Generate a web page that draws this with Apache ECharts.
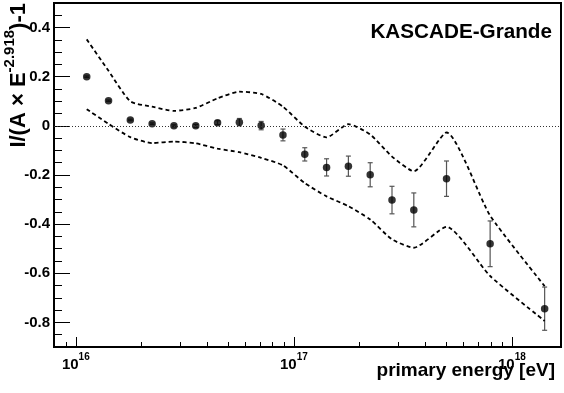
<!DOCTYPE html>
<html>
<head>
<meta charset="utf-8">
<script src="https://cdn.jsdelivr.net/npm/echarts@6/dist/echarts.min.js"></script>
<style>
  html, body { margin: 0; padding: 0; background: #fff; }
  #chart { width: 564px; height: 393px; }
</style>
</head>
<body>
<div id="chart"></div>
<script>
// log10(E / eV) of each energy bin
const lgE = [16.05, 16.15, 16.25, 16.35, 16.45, 16.55, 16.65, 16.75, 16.85, 16.95,
             17.05, 17.15, 17.25, 17.35, 17.45, 17.55, 17.7, 17.9, 18.15]
// residual I/(A x E^-2.918) - 1
const residual = [0.20, 0.102, 0.024, 0.009, 0.0, 0.0, 0.013, 0.015, 0.001, -0.037,
                  -0.116, -0.169, -0.164, -0.199, -0.302, -0.342, -0.215, -0.48, -0.744]
const residualErr = [0.003, 0.003, 0.003, 0.003, 0.004, 0.006, 0.008, 0.015, 0.017, 0.024,
                     0.027, 0.035, 0.041, 0.049, 0.056, 0.069, 0.072, 0.093, 0.088]
// systematic band (dashed)
const bandUpper = [0.352, 0.224, 0.10, 0.078, 0.061, 0.073, 0.112, 0.139, 0.13, 0.078,
                   -0.003, -0.047, 0.007, -0.035, -0.125, -0.185, -0.027, -0.365, -0.652]
const bandLower = [0.068, 0.008, -0.046, -0.07, -0.064, -0.071, -0.093, -0.107, -0.13, -0.161,
                   -0.233, -0.287, -0.327, -0.381, -0.462, -0.496, -0.411, -0.611, -0.794]

// axis ticks
const xDecades = [16, 17, 18]
const xMinorMult = [2, 3, 4, 5, 6, 7, 8, 9]
const yLabels = [-0.8, -0.6, -0.4, -0.2, 0, 0.2, 0.4]
const yMinorStep = 0.05

const xMin = 15.9
const xMax = 18.225
const yMin = -0.9
const yMax = 0.5

const xMinorTicks = []
;[15, 16, 17, 18].forEach(d => {
    xMinorMult.forEach(m => {
        const v = d + Math.log10(m)
        if (v > xMin && v < xMax) xMinorTicks.push(v)
    })
})
const yMinorTicks = []
for (let k = Math.ceil(yMin / yMinorStep); k * yMinorStep <= yMax + 1e-9; k++) {
    yMinorTicks.push(Math.round(k * yMinorStep * 100) / 100)
}

const pts = lgE.map((x, i) => [x, residual[i]])
const errData = lgE.map((x, i) => [x, residual[i], residualErr[i]])
const upper = lgE.map((x, i) => [x, bandUpper[i]])
const lower = lgE.map((x, i) => [x, bandLower[i]])

const font = 'Liberation Sans'
const chart = echarts.init(document.getElementById('chart'))

chart.setOption({
    animation: false,
    backgroundColor: '#fff',
    textStyle: { fontFamily: font },
    title: {
        text: 'KASCADE-Grande',
        right: 12,
        top: 22,
        padding: 0,
        textStyle: { fontFamily: font, fontSize: 20.7, fontWeight: 'bold', color: '#000' }
    },
    grid: {
        left: 54,
        right: 3,
        top: 3,
        bottom: 46,
        show: true,
        borderColor: '#000',
        borderWidth: 2
    },
    xAxis: [
        {
            type: 'value',
            position: 'bottom',
            min: xMin,
            max: xMax,
            splitLine: { show: false },
            axisLine: { show: true, onZero: false, lineStyle: { color: '#000', width: 2 } },
            axisTick: { show: true, inside: true, length: 10, customValues: xDecades, lineStyle: { color: '#000', width: 1 } },
            axisLabel: {
                customValues: xDecades,
                margin: 5,
                formatter: v => '{b|10}{s|' + v + '}',
                rich: {
                    b: { fontFamily: font, fontSize: 15, fontWeight: 'bold', color: '#000', verticalAlign: 'bottom', lineHeight: 20 },
                    s: { fontFamily: font, fontSize: 10, fontWeight: 'bold', color: '#000', verticalAlign: 'top', lineHeight: 12 }
                }
            }
        },
        {
            type: 'value',
            position: 'bottom',
            min: xMin,
            max: xMax,
            splitLine: { show: false },
            axisLine: { show: false, onZero: false },
            axisLabel: { show: false },
            axisTick: { show: true, inside: true, length: 5, customValues: xMinorTicks, lineStyle: { color: '#000', width: 1 } }
        }
    ],
    yAxis: [
        {
            type: 'value',
            position: 'left',
            min: yMin,
            max: yMax,
            splitLine: { show: false },
            axisLine: { show: true, onZero: false, lineStyle: { color: '#000', width: 2 } },
            axisTick: { show: true, inside: true, length: 16, customValues: yLabels, lineStyle: { color: '#000', width: 1 } },
            axisLabel: {
                customValues: yLabels,
                margin: 4,
                fontFamily: font,
                fontSize: 15,
                fontWeight: 'bold',
                color: '#000',
                formatter: v => String(v)
            }
        },
        {
            type: 'value',
            position: 'left',
            min: yMin,
            max: yMax,
            splitLine: { show: false },
            axisLine: { show: false, onZero: false },
            axisLabel: { show: false },
            axisTick: { show: true, inside: true, length: 8, customValues: yMinorTicks, lineStyle: { color: '#000', width: 1 } }
        }
    ],
    graphic: [
        {
            type: 'text',
            x: 555,
            y: 371,
            style: {
                text: 'primary energy [eV]',
                font: 'bold 19px ' + font,
                fill: '#000',
                align: 'right',
                verticalAlign: 'middle'
            }
        },
        {
            type: 'text',
            x: 16,
            y: 3,
            rotation: Math.PI / 2,
            style: {
                text: '{m|I/(A × E}{s|-2.918}{m|)-1}',
                align: 'right',
                verticalAlign: 'middle',
                rich: {
                    m: { fontFamily: font, fontSize: 22, fontWeight: 'bold', fill: '#000', verticalAlign: 'bottom', lineHeight: 28 },
                    s: { fontFamily: font, fontSize: 15, fontWeight: 'bold', fill: '#000', verticalAlign: 'top', lineHeight: 15 }
                }
            }
        }
    ],
    series: [
        {
            name: 'band upper',
            type: 'line',
            data: upper,
            symbol: 'none',
            smooth: 0.2,
            lineStyle: { color: '#000', width: 1.8, type: [4, 3] },
            markLine: {
                silent: true,
                symbol: 'none',
                label: { show: false },
                lineStyle: { color: '#333', width: 1, type: [1, 2] },
                data: [{ yAxis: 0 }]
            }
        },
        {
            name: 'band lower',
            type: 'line',
            data: lower,
            symbol: 'none',
            smooth: 0.2,
            lineStyle: { color: '#000', width: 1.8, type: [4, 3] }
        },
        {
            name: 'errors',
            type: 'custom',
            data: errData,
            z: 3,
            renderItem: function (params, api) {
                const x = api.value(0)
                const y = api.value(1)
                const e = api.value(2)
                const top = api.coord([x, y + e])
                const bot = api.coord([x, y - e])
                const cap = 2.5
                const style = { stroke: '#555', lineWidth: 1.2 }
                return {
                    type: 'group',
                    children: [
                        { type: 'line', shape: { x1: top[0], y1: top[1], x2: bot[0], y2: bot[1] }, style: style },
                        { type: 'line', shape: { x1: top[0] - cap, y1: top[1], x2: top[0] + cap, y2: top[1] }, style: style },
                        { type: 'line', shape: { x1: bot[0] - cap, y1: bot[1], x2: bot[0] + cap, y2: bot[1] }, style: style }
                    ]
                }
            }
        },
        {
            name: 'residual',
            type: 'scatter',
            data: pts,
            z: 4,
            symbol: 'circle',
            symbolSize: 7.5,
            itemStyle: { color: '#000' }
        }
    ]
})
</script>
</body>
</html>
